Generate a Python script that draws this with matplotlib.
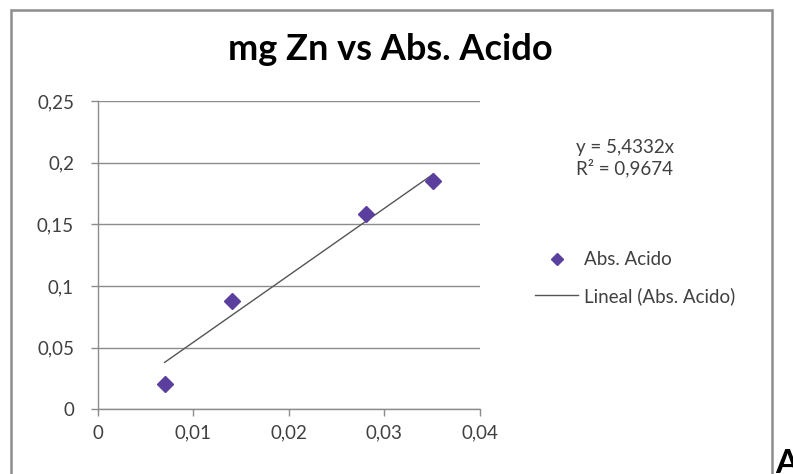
import matplotlib
matplotlib.use("Agg")
import matplotlib.pyplot as plt
from matplotlib.lines import Line2D
from matplotlib.patches import Rectangle

# ---- data ----
mg_zn = [0.007, 0.014, 0.0281, 0.0351]
abs_acido = [0.0203, 0.088, 0.1585, 0.1853]
slope = 5.4332
r2_text = "R² = 0,9674"
eq_text = "y = 5,4332x"
title = "mg Zn vs Abs. Acido"
x_ticks = [0, 0.01, 0.02, 0.03, 0.04]
x_labels = ["0", "0,01", "0,02", "0,03", "0,04"]
y_ticks = [0, 0.05, 0.1, 0.15, 0.2, 0.25]
y_labels = ["0", "0,05", "0,1", "0,15", "0,2", "0,25"]
series_name = "Abs. Acido"
trend_name = "Lineal (Abs. Acido)"

W, H = 793, 474
plt.rcParams['font.family'] = ['Lato', 'DejaVu Sans']
fig = plt.figure(figsize=(W / 100, H / 100), dpi=100)
fig.patch.set_facecolor('white')

def fx(px):
    return px / W

def fy(py):
    return 1 - py / H

# chart border
fig.patches.append(Rectangle((fx(11), fy(480)), fx(772) - fx(11), fy(10) - fy(480),
                             transform=fig.transFigure, fill=False,
                             edgecolor='#8c8c8c', linewidth=1.8, zorder=0))

ax = fig.add_axes([fx(97.7), fy(409.3), fx(480) - fx(97.7), fy(101) - fy(409.3)])
ax.set_xlim(0, 0.04)
ax.set_ylim(0, 0.25)
for s in ['top', 'right']:
    ax.spines[s].set_visible(False)
for s in ['left', 'bottom']:
    ax.spines[s].set_color('#8c8c8c')
    ax.spines[s].set_linewidth(1.0)
ax.set_xticks(x_ticks)
ax.set_xticklabels(x_labels)
ax.set_yticks(y_ticks)
ax.set_yticklabels(y_labels)
ax.tick_params(axis='both', colors='#8c8c8c', labelcolor='#404040', labelsize=13.5,
               length=5, width=1.0)
ax.tick_params(axis='y', pad=12)
ax.tick_params(axis='x', pad=6)
ax.yaxis.grid(True, color='#8c8c8c', linewidth=1.0)
ax.set_axisbelow(True)

ax.plot([mg_zn[0], mg_zn[-1]], [slope * mg_zn[0], slope * mg_zn[-1]],
        color='#555555', linewidth=1.0, zorder=2)
ax.plot(mg_zn, abs_acido, linestyle='none', marker='D', markersize=8,
        color='#5b3f9e', zorder=3, clip_on=False)

fig.text(fx(390), fy(49), title, ha='center', va='center', fontsize=26,
         fontweight='bold', color='#000000')

fig.text(fx(625), fy(147), eq_text, ha='center', va='center', fontsize=13.5, color='#404040')
fig.text(fx(625), fy(168), r2_text, ha='center', va='center', fontsize=13.5, color='#404040')

handles = [Line2D([], [], linestyle='none', marker='D', markersize=6, color='#5b3f9e'),
           Line2D([], [], color='#555555', linewidth=1.0)]
fig.legend(handles, [series_name, trend_name], loc='center left',
           bbox_to_anchor=(fx(535), fy(278)), frameon=False, fontsize=13.5,
           labelcolor='#404040', handlelength=2.3, handletextpad=0.3,
           labelspacing=1.0, borderaxespad=0, borderpad=0)

fig.text(fx(775), fy(449), "A", ha='left', va='top', fontsize=24,
         fontweight='bold', color='#000000')

fig.savefig("out.png", dpi=100)
